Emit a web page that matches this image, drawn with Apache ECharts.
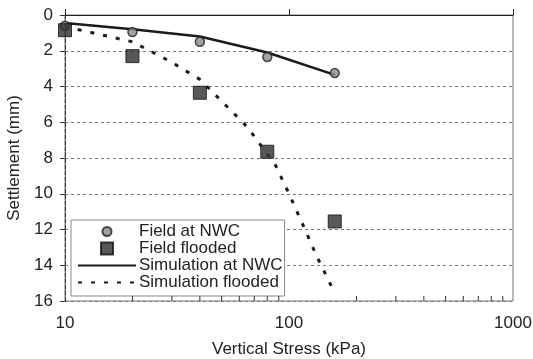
<!DOCTYPE html>
<html>
<head>
<meta charset="utf-8">
<script src="https://cdn.jsdelivr.net/npm/echarts@6/dist/echarts.min.js"></script>
<style>
  html, body { margin: 0; padding: 0; background: #fff; }
  #chart { width: 533px; height: 359px; }
</style>
</head>
<body>
<div id="chart"></div>
<script>
// Vertical stress (kPa) at each load step
const stressSteps = [10, 20, 40, 80, 160];
// Measured settlement (mm)
const fieldNWC = [0.6, 0.95, 1.5, 2.35, 3.25];
const fieldFlooded = [0.85, 2.3, 4.35, 7.65, 11.55];
// Simulated settlement (mm)
const simNWCStress = [10, 20, 40, 80, 160];
const simNWC = [0.45, 0.8, 1.2, 2.1, 3.35];
const simFloodedStress = [10, 20, 30, 40, 65, 87, 100, 115, 133, 155];
const simFlooded = [0.65, 1.5, 2.65, 3.6, 6.25, 8.4, 10.0, 11.7, 13.5, 15.2];
// Minor tick positions on the log axis
const minorTicks = [20, 30, 40, 50, 60, 70, 80, 90, 200, 300, 400, 500, 600, 700, 800, 900];

const pairs = (xs, ys) => xs.map((x, i) => [x, ys[i]]);
const FONT = 'Liberation Sans, Arial, sans-serif';
// Legend markers: small circle / square inside a 14x14 box
const ICON_CIRCLE = 'path://M0,0M14,14M7,2.5A4.5,4.5,0,1,1,6.99,2.5Z';
const ICON_SQUARE = 'path://M0,0M14,14M1,1H13V13H1Z';

const chart = echarts.init(document.getElementById('chart'), null, { renderer: 'canvas' });
chart.setOption({
  animation: false,
  backgroundColor: '#fff',
  grid: {
    left: 65, right: 20, top: 15, bottom: 58,
    containLabel: false, outerBoundsMode: 'none',
    show: true, borderColor: '#777', borderWidth: 1, backgroundColor: 'transparent'
  },
  xAxis: {
    type: 'log', logBase: 10, min: 10, max: 1000,
    name: 'Vertical Stress (kPa)', nameLocation: 'middle', nameGap: 40,
    nameTextStyle: { fontFamily: FONT, fontSize: 17, color: '#222' },
    axisLine: { lineStyle: { color: '#222', width: 1 } },
    axisTick: { inside: true, length: 6, lineStyle: { color: '#222' } },
    axisLabel: { fontFamily: FONT, fontSize: 17, color: '#222', margin: 14, formatter: v => String(v) },
    splitLine: { show: false },
    minorTick: { show: false }
  },
  yAxis: {
    type: 'value', inverse: true, min: 0, max: 16, interval: 2,
    name: 'Settlement (mm)', nameLocation: 'middle', nameGap: 42, nameRotate: 90,
    nameTextStyle: { fontFamily: FONT, fontSize: 17, color: '#222' },
    axisLine: { show: true, lineStyle: { color: '#333', width: 1, type: [4, 2] } },
    axisTick: { show: true, inside: false, length: 5, lineStyle: { color: '#333' } },
    axisLabel: { fontFamily: FONT, fontSize: 17, color: '#222', margin: 12 },
    splitLine: { show: true, lineStyle: { color: '#777', width: 1, type: [3, 3] } }
  },
  legend: {
    orient: 'vertical', left: 71, top: 220,
    padding: [3, 2, 5, 6],
    itemWidth: 58, itemHeight: 14, itemGap: 0,
    backgroundColor: '#fff', borderColor: '#888', borderWidth: 1,
    textStyle: { fontFamily: FONT, fontSize: 17, lineHeight: 17, color: '#222', padding: [0, 0, 0, -2] },
    data: [
      { name: 'Field at NWC', icon: ICON_CIRCLE },
      { name: 'Field flooded', icon: ICON_SQUARE },
      { name: 'Simulation at NWC', itemStyle: { opacity: 0, borderWidth: 0 } },
      { name: 'Simulation flooded', itemStyle: { opacity: 0, borderWidth: 0 } }
    ]
  },
  series: [
    {
      name: 'Simulation at NWC', type: 'line', symbol: 'none', z: 3,
      data: pairs(simNWCStress, simNWC),
      lineStyle: { color: '#1a1a1a', width: 2.5 },
      itemStyle: { color: '#1a1a1a' }
    },
    {
      name: 'Simulation flooded', type: 'line', symbol: 'none', z: 3,
      data: pairs(simFloodedStress, simFlooded),
      lineStyle: { color: '#1a1a1a', width: 3, type: [4, 9] },
      itemStyle: { color: '#1a1a1a' }
    },
    {
      name: 'Field at NWC', type: 'scatter', symbol: 'circle', symbolSize: 9, z: 4,
      data: pairs(stressSteps, fieldNWC),
      itemStyle: { color: '#8a8a8a', borderColor: '#222', borderWidth: 1.5 }
    },
    {
      name: 'Field flooded', type: 'scatter', symbol: 'rect', symbolSize: 13, z: 5,
      data: pairs(stressSteps, fieldFlooded),
      itemStyle: { color: '#2e2e2e', borderColor: '#111', borderWidth: 1 }
    },
    {
      // minor ticks along the log axis
      type: 'custom', silent: true, z: 5,
      data: minorTicks.map(v => [v, 16]),
      renderItem: (params, api) => {
        const p = api.coord([api.value(0), api.value(1)]);
        return {
          type: 'line',
          shape: { x1: p[0], y1: p[1], x2: p[0], y2: p[1] - 5 },
          style: { stroke: '#333', lineWidth: 1 }
        };
      },
      clip: false
    }
  ]
});
</script>
</body>
</html>
